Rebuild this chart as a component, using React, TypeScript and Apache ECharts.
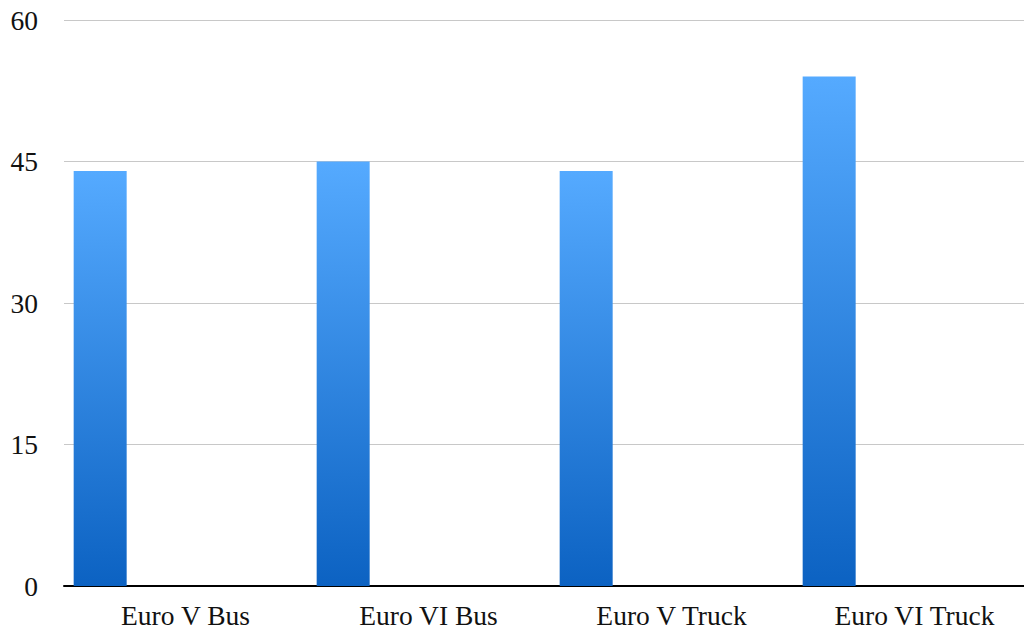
import React, { useEffect, useRef } from "react";
import * as echarts from "echarts";

const categories = ["Euro V Bus", "Euro VI Bus", "Euro V Truck", "Euro VI Truck"];
const seriesValues = [44, 45, 44, 54];
const emptySeries = [0, 0, 0, 0];
const yTicks = [0, 15, 30, 45, 60];

export default function App() {
  const ref = useRef<HTMLDivElement>(null);
  useEffect(() => {
    const chart = echarts.init(ref.current!, null, { renderer: "svg" });
    chart.setOption({
      animation: false,
      grid: {
        left: 64,
        width: 972,
        top: 20,
        bottom: 45,
        containLabel: false,
        outerBoundsMode: "none",
      },
      xAxis: {
        type: "category",
        data: categories,
        axisTick: { show: false },
        axisLine: { lineStyle: { color: "#000", width: 2 } },
        axisLabel: {
          color: "#111",
          fontFamily: "Liberation Serif",
          fontSize: 27.5,
          margin: 15,
        },
      },
      yAxis: {
        type: "value",
        min: yTicks[0],
        max: yTicks[yTicks.length - 1],
        interval: 15,
        axisLine: { show: false },
        axisTick: { show: false },
        splitLine: { lineStyle: { color: "#c8c8c8", width: 1 } },
        axisLabel: {
          color: "#111",
          fontFamily: "Liberation Serif",
          fontSize: 27.5,
          margin: 26,
        },
      },
      series: [
        {
          type: "bar",
          data: seriesValues,
          barWidth: 53,
          barGap: "222%",
          itemStyle: {
            color: new echarts.graphic.LinearGradient(0, 0, 0, 1, [
              { offset: 0, color: "#55aaff" },
              { offset: 1, color: "#0c62c2" },
            ]),
          },
        },
        {
          type: "bar",
          data: emptySeries,
          barWidth: 53,
          itemStyle: { color: "transparent" },
        },
      ],
    });
    return () => chart.dispose();
  }, []);
  return <div ref={ref} style={{ width: 1024, height: 631, position: "absolute", left: 0, top: 0 }} />;
}
